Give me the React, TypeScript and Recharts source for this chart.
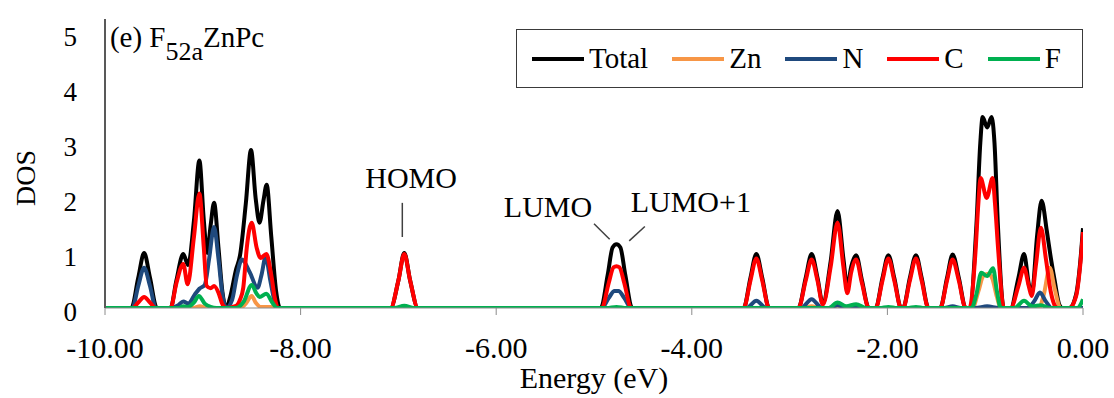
import {
  Line,
  LineChart,
  ReferenceDot,
  ReferenceLine,
  XAxis,
  YAxis,
} from "recharts";

type Pt = [number, number];

// energy (eV), DOS pairs
const total: Pt[] = [
  [-10, 0],
  [-9.73, 0], [-9.66, 0.55], [-9.6, 1.0], [-9.54, 0.55], [-9.47, 0],
  [-9.33, 0], [-9.27, 0.5], [-9.2, 0.98], [-9.15, 0.78], [-9.09, 1.6], [-9.035, 2.68], [-8.99, 1.6],
  [-8.955, 1.0], [-8.92, 1.5], [-8.885, 1.91], [-8.84, 1.1], [-8.8, 0.3], [-8.76, 0],
  [-8.72, 0.2], [-8.66, 0.7], [-8.62, 0.95], [-8.56, 1.9], [-8.507, 2.87], [-8.46, 2.0], [-8.42, 1.55],
  [-8.38, 1.95], [-8.347, 2.24], [-8.3, 1.3], [-8.25, 0.3], [-8.21, 0],
  [-7.08, 0], [-7.0, 0.5], [-6.94, 1.0], [-6.88, 0.5], [-6.8, 0],
  [-4.93, 0], [-4.86, 0.6], [-4.81, 1.1], [-4.77, 1.16], [-4.73, 1.1], [-4.68, 0.6], [-4.61, 0],
  [-3.47, 0], [-3.4, 0.55], [-3.34, 0.98], [-3.28, 0.55], [-3.21, 0],
  [-2.91, 0], [-2.835, 0.55], [-2.775, 0.98], [-2.715, 0.55], [-2.66, 0.08], [-2.58, 0.85], [-2.51, 1.76],
  [-2.45, 0.9], [-2.41, 0.38], [-2.37, 0.75], [-2.32, 0.96], [-2.26, 0.5], [-2.19, 0],
  [-2.12, 0], [-2.05, 0.55], [-1.99, 0.96], [-1.93, 0.55], [-1.86, 0],
  [-1.84, 0], [-1.77, 0.55], [-1.708, 0.96], [-1.65, 0.55], [-1.58, 0],
  [-1.46, 0], [-1.39, 0.55], [-1.333, 0.97], [-1.27, 0.55], [-1.2, 0],
  [-1.16, 0], [-1.09, 1.5], [-1.05, 3.0], [-1.026, 3.47], [-0.98, 3.28], [-0.935, 3.47], [-0.905, 3.0],
  [-0.87, 1.5], [-0.81, 0],
  [-0.74, 0], [-0.66, 0.55], [-0.603, 0.98], [-0.55, 0.4], [-0.52, 0.31], [-0.47, 1.3], [-0.423, 1.95],
  [-0.37, 1.4], [-0.33, 0.92], [-0.29, 0.5], [-0.24, 0.05], [-0.21, 0],
  [-0.14, 0], [-0.07, 0.25], [-0.03, 0.8], [0, 1.45],
];

const zn: Pt[] = [
  [-10, 0],
  [-9.1, 0], [-9.03, 0.03], [-8.96, 0],
  [-8.62, 0], [-8.56, 0.08], [-8.5, 0.22], [-8.46, 0.1], [-8.41, 0.02], [-8.3, 0.02], [-8.25, 0],
  [-2.85, 0], [-2.775, 0.03], [-2.7, 0],
  [-2.58, 0], [-2.51, 0.04], [-2.44, 0],
  [-1.13, 0], [-1.07, 0.3], [-1.02, 0.58], [-0.97, 0.62], [-0.93, 0.55], [-0.88, 0.2], [-0.84, 0],
  [-0.45, 0], [-0.4, 0.25], [-0.34, 0.73], [-0.29, 0.35], [-0.23, 0],
  [0, 0],
];

const nitrogen: Pt[] = [
  [-10, 0],
  [-9.72, 0], [-9.66, 0.4], [-9.6, 0.73], [-9.54, 0.4], [-9.48, 0],
  [-9.33, 0], [-9.25, 0.05], [-9.2, 0.12], [-9.15, 0.08], [-9.08, 0.25], [-9.035, 0.35], [-8.98, 0.42],
  [-8.935, 0.9], [-8.885, 1.47], [-8.84, 0.9], [-8.8, 0.25], [-8.76, 0],
  [-8.7, 0.15], [-8.65, 0.6], [-8.6, 0.88], [-8.52, 0.65], [-8.44, 0.37], [-8.4, 0.6], [-8.357, 0.93],
  [-8.31, 0.5], [-8.26, 0.08], [-8.23, 0],
  [-7.0, 0], [-6.94, 0.03], [-6.88, 0],
  [-4.92, 0], [-4.85, 0.18], [-4.79, 0.31], [-4.75, 0.31], [-4.69, 0.18], [-4.62, 0],
  [-3.44, 0], [-3.34, 0.13], [-3.24, 0],
  [-2.88, 0], [-2.775, 0.16], [-2.67, 0],
  [-2.6, 0], [-2.51, 0.05], [-2.42, 0],
  [-1.42, 0], [-1.333, 0.03], [-1.25, 0],
  [-1.1, 0], [-0.98, 0.03], [-0.86, 0],
  [-0.56, 0], [-0.5, 0.12], [-0.44, 0.28], [-0.38, 0.12], [-0.32, 0],
  [0, 0],
];

const carbon: Pt[] = [
  [-10, 0],
  [-9.72, 0], [-9.66, 0.1], [-9.6, 0.2], [-9.54, 0.1], [-9.48, 0],
  [-9.33, 0], [-9.27, 0.45], [-9.2, 0.8], [-9.155, 0.43], [-9.09, 1.3], [-9.035, 2.08], [-8.99, 1.1],
  [-8.96, 0.4], [-8.92, 0.36], [-8.885, 0.4], [-8.84, 0.28], [-8.8, 0.07], [-8.76, 0],
  [-8.66, 0.04], [-8.62, 0.15], [-8.586, 0.37], [-8.55, 1.1], [-8.5, 1.55], [-8.45, 1.1], [-8.41, 0.91],
  [-8.35, 0.98], [-8.3, 0.6], [-8.26, 0.15], [-8.23, 0],
  [-7.08, 0], [-7.0, 0.5], [-6.94, 0.98], [-6.88, 0.5], [-6.8, 0],
  [-4.92, 0], [-4.85, 0.45], [-4.8, 0.74], [-4.77, 0.76], [-4.74, 0.74], [-4.69, 0.45], [-4.62, 0],
  [-3.47, 0], [-3.4, 0.5], [-3.34, 0.9], [-3.28, 0.5], [-3.21, 0],
  [-2.91, 0], [-2.835, 0.5], [-2.775, 0.88], [-2.715, 0.5], [-2.66, 0.06], [-2.58, 0.75], [-2.51, 1.55],
  [-2.45, 0.75], [-2.41, 0.27], [-2.37, 0.65], [-2.32, 0.88], [-2.26, 0.45], [-2.19, 0],
  [-2.12, 0], [-2.05, 0.5], [-1.99, 0.9], [-1.93, 0.5], [-1.86, 0],
  [-1.84, 0], [-1.77, 0.5], [-1.708, 0.9], [-1.65, 0.5], [-1.58, 0],
  [-1.46, 0], [-1.39, 0.5], [-1.333, 0.88], [-1.27, 0.5], [-1.2, 0],
  [-1.16, 0], [-1.1, 1.0], [-1.07, 1.9], [-1.047, 2.36], [-0.985, 2.0], [-0.924, 2.36], [-0.9, 1.9],
  [-0.865, 1.0], [-0.81, 0],
  [-0.74, 0], [-0.66, 0.4], [-0.603, 0.73], [-0.555, 0.4], [-0.525, 0.22], [-0.48, 0.8], [-0.43, 1.46],
  [-0.38, 0.9], [-0.33, 0.3], [-0.28, 0.02], [-0.26, 0],
  [-0.14, 0], [-0.07, 0.22], [-0.03, 0.75], [0, 1.38],
];

const fluorine: Pt[] = [
  [-10, 0],
  [-9.25, 0], [-9.2, 0.03], [-9.15, 0.02], [-9.09, 0.1], [-9.04, 0.22], [-8.98, 0.08], [-8.92, 0.02], [-8.86, 0],
  [-8.66, 0], [-8.58, 0.12], [-8.5, 0.42], [-8.45, 0.26], [-8.42, 0.2], [-8.35, 0.26], [-8.29, 0.1], [-8.24, 0],
  [-7.04, 0], [-6.94, 0.04], [-6.84, 0],
  [-4.87, 0], [-4.77, 0.02], [-4.67, 0],
  [-2.6, 0], [-2.51, 0.1], [-2.42, 0.03], [-2.32, 0.07], [-2.22, 0],
  [-2.08, 0], [-1.99, 0.02], [-1.9, 0],
  [-1.8, 0], [-1.708, 0.02], [-1.62, 0],
  [-1.14, 0], [-1.09, 0.25], [-1.04, 0.64], [-0.98, 0.58], [-0.92, 0.72], [-0.88, 0.3], [-0.84, 0],
  [-0.7, 0], [-0.603, 0.13], [-0.52, 0.03], [-0.43, 0.05], [-0.34, 0],
  [-0.06, 0], [-0.02, 0.08], [0, 0.16],
];

const xTicks = [-10, -8, -6, -4, -2, 0];
const yTicks = [0, 1, 2, 3, 4, 5];

const series = [
  { name: "Total", color: "#000000", points: total },
  { name: "Zn", color: "#F79646", points: zn },
  { name: "N", color: "#1F497D", points: nitrogen },
  { name: "C", color: "#FF0000", points: carbon },
  { name: "F", color: "#00B050", points: fluorine },
];

const labels = [
  { text: "HOMO", x: -6.87, y: 2.18 },
  { text: "LUMO", x: -5.47, y: 1.66 },
  { text: "LUMO+1", x: -4.01, y: 1.75 },
];

const pointers = [
  [{ x: -6.96, y: 1.91 }, { x: -6.96, y: 1.29 }],
  [{ x: -5.0, y: 1.53 }, { x: -4.84, y: 1.25 }],
  [{ x: -4.64, y: 1.22 }, { x: -4.48, y: 1.48 }],
];

const FONT = "'Liberation Serif', 'Times New Roman', serif";

function XTick({ x, y, payload }: any) {
  return (
    <text x={x} y={y + 43} textAnchor="middle" fontFamily={FONT} fontSize={30} fill="#000">
      {Number(payload.value).toFixed(2)}
    </text>
  );
}

function YTick({ x, y, payload }: any) {
  return (
    <text x={x} y={y + 13} textAnchor="end" fontFamily={FONT} fontSize={27} fill="#000">
      {payload.value}
    </text>
  );
}

function LegendBox() {
  return (
    <div
      style={{
        position: "absolute",
        left: 516,
        top: 29,
        boxSizing: "border-box",
        width: 567,
        height: 59,
        border: "1.5px solid #3a3a3a",
        background: "#fff",
        display: "flex",
        alignItems: "center",
        paddingLeft: 15,
        fontFamily: FONT,
        fontSize: 29,
        color: "#000",
      }}
    >
      {series.map((s) => (
        <div key={s.name} style={{ display: "flex", alignItems: "center", marginRight: 24 }}>
          <div style={{ width: 52, height: 4, background: s.color }} />
          <span style={{ marginLeft: 5 }}>{s.name}</span>
        </div>
      ))}
    </div>
  );
}

export default function App() {
  return (
    <div style={{ position: "absolute", left: 0, top: 0, width: 1114, height: 398, background: "#fff" }}>
      <LineChart width={1114} height={398} margin={{ top: 19, right: 31, bottom: 0, left: 0 }}>
        <XAxis
          type="number"
          dataKey="e"
          domain={[-10, 0]}
          ticks={xTicks}
          tick={<XTick />}
          tickSize={7}
          tickMargin={0}
          height={90}
          stroke="#8c8c8c"
          allowDataOverflow
          label={{
            content: () => (
              <text x={594} y={388} textAnchor="middle" fontFamily={FONT} fontSize={30} fill="#000">
                Energy (eV)
              </text>
            ),
          }}
        />
        <YAxis
          type="number"
          domain={[0, 5.25]}
          ticks={yTicks}
          tick={<YTick />}
          tickLine={false}
          tickSize={0}
          tickMargin={28}
          width={105}
          axisLine={{ stroke: "#595959", strokeWidth: 2 }}
          allowDataOverflow
          label={{
            content: () => (
              <text
                x={35}
                y={178}
                transform="rotate(-90 35 178)"
                textAnchor="middle"
                fontFamily={FONT}
                fontSize={28}
                fill="#000"
              >
                DOS
              </text>
            ),
          }}
        />
        {series.map((s) => (
          <Line
            key={s.name}
            name={s.name}
            data={s.points.map(([e, d]) => ({ e, d }))}
            dataKey="d"
            type="monotone"
            stroke={s.color}
            strokeWidth={4}
            dot={false}
            activeDot={false}
            isAnimationActive={false}
          />
        ))}
        {pointers.map((seg, i) => (
          <ReferenceLine key={i} segment={seg} stroke="#404040" strokeWidth={1.5} />
        ))}
        {labels.map((l) => (
          <ReferenceDot
            key={l.text}
            x={l.x}
            y={l.y}
            r={0}
            shape={(p: any) => (
              <text x={p.cx} y={p.cy} textAnchor="middle" fontFamily={FONT} fontSize={30} fill="#000">
                {l.text}
              </text>
            )}
          />
        ))}
        <ReferenceDot
          x={-9.95}
          y={4.74}
          r={0}
          shape={(p: any) => (
            <text x={p.cx} y={p.cy} fontFamily={FONT} fontSize={29} fill="#000">
              (e) F
              <tspan dy={13} fontSize={26}>52a</tspan>
              <tspan dy={-13}>ZnPc</tspan>
            </text>
          )}
        />
      </LineChart>
      <LegendBox />
    </div>
  );
}
